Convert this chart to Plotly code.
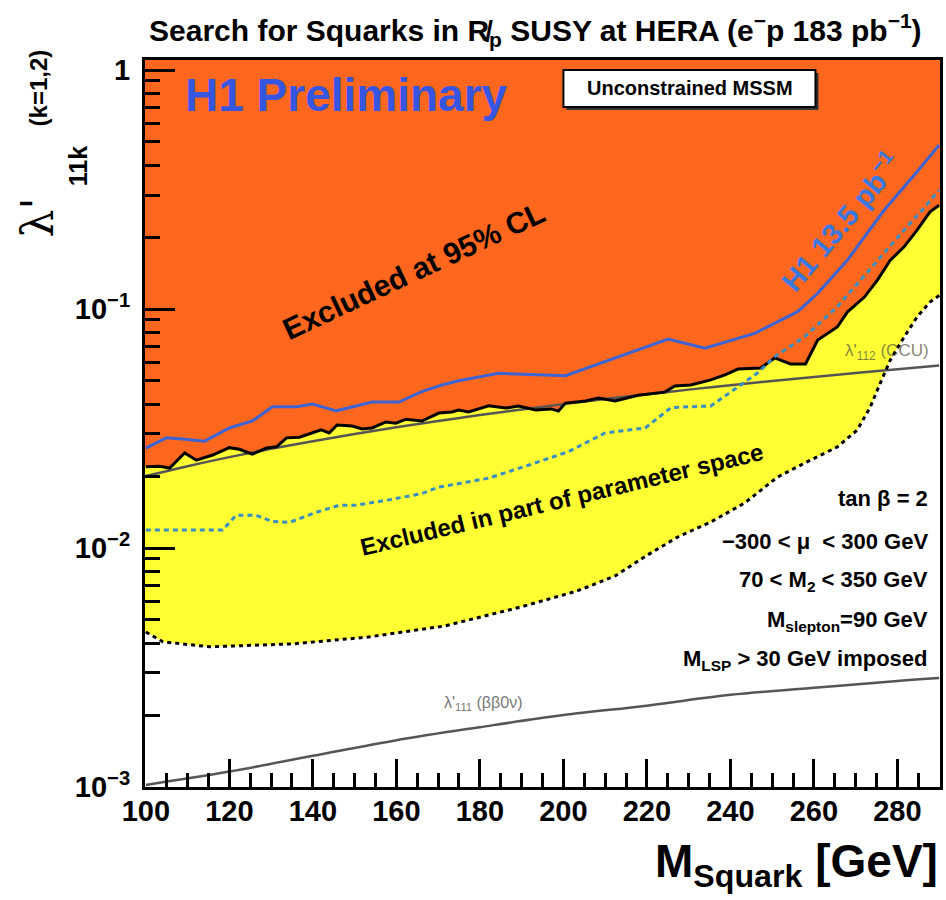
import plotly.graph_objects as go

# ---------------- data ----------------
# Excluded at 95% CL boundary (solid black)
M_excl = [100.0, 103.3, 105.7, 109.3, 112.1, 116.0, 120.0, 122.4, 125.5, 128.9, 131.3, 133.7,
          136.8, 142.0, 143.9, 145.8, 149.4, 151.8, 154.2, 157.5, 159.9, 162.3, 166.1, 170.2,
          173.3, 174.9, 177.3, 182.1, 186.2, 189.3, 193.3, 197.1, 198.8, 200.5, 205.3, 208.4,
          212.4, 217.9, 224.3, 226.7, 230.5, 235.3, 238.7, 241.8, 247.3, 250.6, 254.4, 258.0,
          260.9, 265.6, 268.0, 272.1, 275.2, 278.3, 281.6, 284.7, 287.8, 290.0]
lam_excl = [0.0219, 0.0220, 0.0216, 0.0250, 0.0233, 0.0245, 0.0263, 0.0259, 0.0247, 0.0262, 0.0265, 0.0289,
            0.0291, 0.0312, 0.0303, 0.0327, 0.0324, 0.0315, 0.0318, 0.0337, 0.0333, 0.0346, 0.0340, 0.0367,
            0.0371, 0.0378, 0.0371, 0.0394, 0.0385, 0.0393, 0.0378, 0.0382, 0.0374, 0.0404, 0.0412, 0.0424,
            0.0412, 0.0436, 0.0449, 0.0476, 0.0481, 0.0505, 0.0530, 0.0561, 0.0567, 0.0624, 0.0589, 0.0589,
            0.0742, 0.0841, 0.0971, 0.1122, 0.1322, 0.160, 0.182, 0.214, 0.255, 0.272]

# Excluded in part of parameter space: lower boundary (dotted black)
M_part = [100.0, 104.1, 115.3, 135.1, 153.2, 171.6, 189.7, 203.3, 212.4, 219.8, 227.4, 235.3,
          243.4, 251.3, 259.2, 265.6, 270.4, 273.5, 275.9, 278.3, 281.6, 284.7, 287.8, 290.2]
lam_part = [0.00445, 0.00405, 0.00386, 0.00397, 0.00424, 0.00472, 0.00566, 0.00661, 0.00764, 0.00927,
            0.01112, 0.01285, 0.01542, 0.01982, 0.02334, 0.02648, 0.03118, 0.03890, 0.04900, 0.0612,
            0.0763, 0.0926, 0.1070, 0.1145]

# H1 13.5 pb^-1 limit (solid blue)
M_h1 = [100.0, 104.9, 108.8, 114.1, 120.0, 125.5, 130.3, 136.0, 139.9, 145.6, 154.2, 160.6, 166.1,
        170.9, 174.9, 184.5, 200.5, 225.1, 233.9, 245.8, 256.1, 260.9, 268.0, 276.8, 284.7, 290.0]
lam_h1 = [0.0262, 0.0289, 0.0286, 0.0280, 0.0318, 0.0340, 0.0390, 0.0390, 0.0400, 0.0375, 0.0408, 0.0408,
          0.0451, 0.0481, 0.0501, 0.0538, 0.0526, 0.0749, 0.0685, 0.0791, 0.0975, 0.1164, 0.160, 0.259,
          0.375, 0.486]

# dotted blue curve
M_dot = [100.0, 118.4, 121.6, 126.4, 130.3, 134.4, 140.8, 146.3, 150.4, 158.2, 166.1, 170.2, 174.2,
         182.1, 191.6, 201.2, 210.0, 219.6, 225.8, 235.3, 241.8, 246.5, 250.6, 257.8, 265.6, 275.2,
         281.6, 286.4, 290.0]
lam_dot = [0.0119, 0.0119, 0.0137, 0.0137, 0.0129, 0.0128, 0.0141, 0.0151, 0.0151, 0.0159, 0.0169, 0.0180,
           0.0185, 0.0196, 0.0222, 0.0253, 0.0303, 0.0318, 0.0387, 0.0393, 0.0472, 0.0540, 0.0631, 0.0766,
           0.1022, 0.160, 0.214, 0.265, 0.315]

# lambda'_112 (CCU)
M_ccu = [100, 110, 120, 130, 140, 150, 160, 170, 180, 190, 200, 210, 220, 230, 240, 250, 260, 270, 280, 290]
lam_ccu = [0.020, 0.022, 0.024, 0.026, 0.028, 0.030, 0.032, 0.034, 0.036, 0.038, 0.040, 0.042, 0.044,
           0.046, 0.048, 0.050, 0.052, 0.054, 0.056, 0.058]

# lambda'_111 (beta beta 0 nu)
M_bb = [100, 120, 140, 160, 180, 200, 220, 240, 260, 280, 290]
lam_bb = [0.00102, 0.00116, 0.00135, 0.00157, 0.00178, 0.00200, 0.00219, 0.00243, 0.00260, 0.00278, 0.00286]

x_ticks = [100, 120, 140, 160, 180, 200, 220, 240, 260, 280]
y_ticks = [0.001, 0.01, 0.1, 1]
y_ticktext = ["10<sup>\u22123</sup>", "10<sup>\u22122</sup>", "10<sup>\u22121</sup>", "1"]

# ---------------- layout constants ----------------
W, H = 946, 900
L, R, T, B = 145, 943, 60, 787
X_RANGE = [99.8, 290.2]
Y_RANGE = [-3.0, 0.042]
X_EXT = [98.0, 292.0]
Y_TOP = 5.0

ORANGE = "#ff661e"
YELLOW = "#ffff33"
BLUE = "#3c64d2"
DOTBLUE = "#3a8fc0"
GRAY = "#555555"


def px(x):
    return (x - L) / (R - L)


def py(y):
    return (B - y) / (B - T)


fig = go.Figure()

# orange excluded region
ox = [X_EXT[0]] + M_excl + [X_EXT[1], X_EXT[1], X_EXT[0]]
oy = [lam_excl[0]] + lam_excl + [lam_excl[-1], Y_TOP, Y_TOP]
fig.add_trace(go.Scatter(x=ox, y=oy, fill="toself", fillcolor=ORANGE, mode="none",
                         hoverinfo="skip", showlegend=False))

# yellow partially excluded region
yx = [X_EXT[0]] + M_excl + [X_EXT[1], X_EXT[1]] + M_part[::-1] + [X_EXT[0]]
yy = [lam_excl[0]] + lam_excl + [lam_excl[-1], lam_part[-1]] + lam_part[::-1] + [lam_part[0]]
fig.add_trace(go.Scatter(x=yx, y=yy, fill="toself", fillcolor=YELLOW, mode="none",
                         hoverinfo="skip", showlegend=False))

line_kw = dict(mode="lines", hoverinfo="skip", showlegend=False)
fig.add_trace(go.Scatter(x=M_bb, y=lam_bb, line=dict(color=GRAY, width=2.5, shape="spline"), **line_kw))
fig.add_trace(go.Scatter(x=M_ccu, y=lam_ccu, line=dict(color=GRAY, width=2.5, shape="spline"), **line_kw))
fig.add_trace(go.Scatter(x=M_part, y=lam_part, line=dict(color="black", width=3, dash="4px,4px"), **line_kw))
fig.add_trace(go.Scatter(x=M_excl, y=lam_excl, line=dict(color="black", width=3), **line_kw))
fig.add_trace(go.Scatter(x=M_dot, y=lam_dot, line=dict(color=DOTBLUE, width=3, dash="5px,4px"), **line_kw))
fig.add_trace(go.Scatter(x=M_h1, y=lam_h1, line=dict(color=BLUE, width=3), **line_kw))

SANS = "Liberation Sans, Arial, Helvetica, sans-serif"
tickfont = dict(family=SANS, size=29, color="black", weight="bold")

fig.update_layout(
    width=W, height=H,
    margin=dict(l=L, r=W - R, t=T, b=H - B, pad=0),
    paper_bgcolor="white", plot_bgcolor="white",
    showlegend=False,
    xaxis=dict(range=X_RANGE, tickvals=x_ticks, ticks="inside", ticklen=28, tickwidth=3,
               tickcolor="black", showline=True, linecolor="black", linewidth=3, mirror=True,
               showgrid=False, zeroline=False, tickfont=tickfont, ticklabelstandoff=-4,
               minor=dict(dtick=5, tick0=100, ticks="inside", ticklen=14, tickwidth=3,
                          tickcolor="black", showgrid=False)),
    yaxis=dict(type="log", range=Y_RANGE, tickvals=y_ticks, ticktext=y_ticktext,
               ticks="inside", ticklen=30, tickwidth=3, tickcolor="black",
               showline=True, linecolor="black", linewidth=3, mirror=True,
               showgrid=False, zeroline=False, tickfont=tickfont, ticklabelstandoff=6,
               minor=dict(tickvals=[m * 10 ** e for e in (-3, -2, -1) for m in range(2, 10)],
                          ticks="inside", ticklen=15, tickwidth=3, tickcolor="black",
                          showgrid=False)),
)

ann = []


def add_text(x, y, text, size, color="black", bold=False, angle=0, xanchor="center",
             yanchor="middle", family=SANS):
    ann.append(dict(x=px(x), y=py(y), xref="paper", yref="paper", text=text, showarrow=False,
                    xanchor=xanchor, yanchor=yanchor, textangle=angle,
                    font=dict(family=family, size=size, color=color,
                              weight="bold" if bold else "normal")))


# title
add_text(537, 30, "Search for Squarks in R\u0338<sub>p</sub> SUSY at HERA (e<sup>\u2212</sup>p 183 pb<sup>\u22121</sup>)",
         30, family="Liberation Sans Narrow, Arial Narrow, Liberation Sans, sans-serif", bold=True)
# axis titles
add_text(943, 864, "M<sub>Squark</sub> [GeV]", 46, bold=True, xanchor="right")
add_text(37, 217, "\u03bb'", 44, angle=-90, family="DejaVu Serif, Liberation Serif, serif")
add_text(78, 166, "11k", 25, bold=True, angle=-90)
add_text(39, 88, "(k=1,2)", 24, bold=True, angle=-90)

# in-plot labels
add_text(183, 95, "H1 Preliminary", 46, color="#3655e0", bold=True, xanchor="left")
add_text(415, 270, "Excluded at 95% CL", 30, bold=True, angle=-25)
add_text(563, 499, "Excluded in part of parameter space", 24, bold=True, angle=-13.5)
add_text(843, 221, "H1 13.5 pb<sup>\u22121</sup>", 29, color="#3a78e0", bold=True, angle=-50)
add_text(890, 352, "\u03bb'<sub>112</sub> (CCU)", 17, color="rgba(90,90,70,0.75)")
add_text(484, 703, "\u03bb'<sub>111</sub> (\u03b2\u03b20\u03bd)", 16, color="rgba(90,90,90,0.85)")
add_text(692, 88, "Unconstrained MSSM", 20, bold=True)

# parameter block
for yy_, txt in [(498, "tan \u03b2 = 2"),
                 (541, "\u2212300 &lt; \u03bc  &lt; 300 GeV"),
                 (581, "70 &lt; M<sub>2</sub> &lt; 350 GeV"),
                 (621, "M<sub>slepton</sub>=90 GeV"),
                 (660, "M<sub>LSP</sub> &gt; 30 GeV imposed")]:
    add_text(933, yy_, txt, 22, xanchor="right", bold=True)

fig.update_layout(annotations=ann)

# label box with shadow
fig.add_shape(type="rect", xref="paper", yref="paper", x0=px(568), x1=px(821), y0=py(110), y1=py(73),
              fillcolor="#333333", line=dict(width=0))
fig.add_shape(type="rect", xref="paper", yref="paper", x0=px(565), x1=px(818), y0=py(107), y1=py(70),
              fillcolor="white", line=dict(color="black", width=2))

fig.write_html("out.html")
